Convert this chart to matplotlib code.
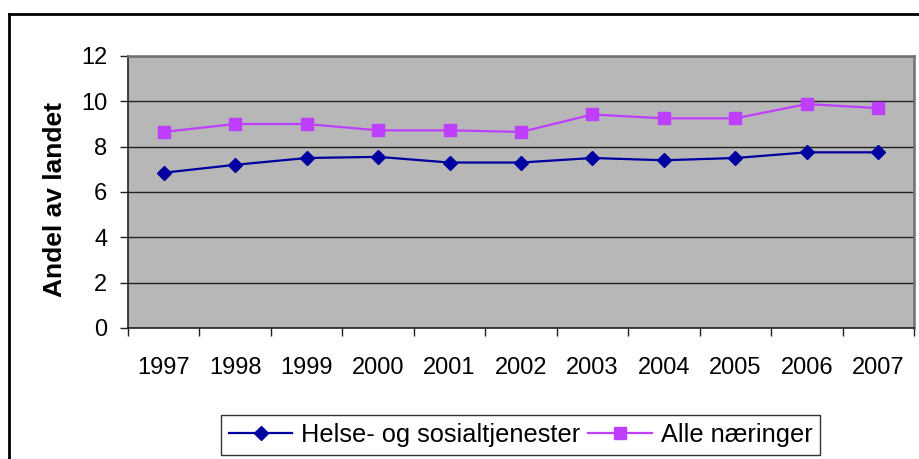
import numpy as np
import matplotlib
matplotlib.use("Agg")
import matplotlib.pyplot as plt
from matplotlib.lines import Line2D

plt.rcParams['font.family'] = ['Liberation Sans', 'DejaVu Sans']

# Data
years = ['1997', '1998', '1999', '2000', '2001', '2002', '2003', '2004', '2005', '2006', '2007']
helse = [6.85, 7.2, 7.5, 7.55, 7.3, 7.3, 7.5, 7.4, 7.5, 7.75, 7.75]
alle = [8.65, 9.0, 9.0, 8.72, 8.72, 8.65, 9.42, 9.25, 9.25, 9.88, 9.7]
y_ticks = [0, 2, 4, 6, 8, 10, 12]

fig = plt.figure(figsize=(9.2, 4.59), dpi=100)
ax = fig.add_axes([128 / 920, 1 - 328 / 459, 786 / 920, 272 / 459])
ax.set_facecolor('#b7b7b7')

x = np.arange(len(years))
ax.plot(x, helse, color='#0000a0', lw=1.6, marker='D', ms=7.2,
        label='Helse- og sosialtjenester', zorder=3)
ax.plot(x, alle, color='#bf3fff', lw=1.6, marker='s', ms=8.6,
        label='Alle næringer', zorder=3)

ax.set_xlim(-0.5, len(years) - 0.5)
ax.set_ylim(0, 12)
ax.set_yticks(y_ticks)
ax.yaxis.grid(True, color='#222222', lw=1.0)
ax.set_axisbelow(True)

# category boundaries as major ticks, labels at centres
ax.set_xticks(np.arange(-0.5, len(years), 1.0))
ax.set_xticklabels([])
ax.set_xticks(x, minor=True)
ax.set_xticklabels(years, minor=True)
ax.tick_params(axis='x', which='major', length=6, width=1, direction='out', color='#222222')
ax.tick_params(axis='x', which='minor', length=0, pad=21, labelsize=17)
ax.tick_params(axis='y', length=6, width=1, direction='out', pad=9, labelsize=17, color='#222222')

for side in ['left', 'bottom']:
    ax.spines[side].set_color('#222222')
    ax.spines[side].set_linewidth(1.2)
for side in ['top', 'right']:
    ax.spines[side].set_color('#707070')
    ax.spines[side].set_linewidth(1.8)

ax.set_ylabel('Andel av landet', fontsize=19, fontweight='bold')
ax.yaxis.set_label_coords(-0.078, 0.474)

leg = fig.legend(loc='center', bbox_to_anchor=(0.5658, 0.0523), ncol=2,
                 fontsize=18.3, frameon=True, fancybox=False, edgecolor='black',
                 handlelength=2.5, handletextpad=0.35, columnspacing=0.3,
                 borderpad=0.3, borderaxespad=0)
leg.get_frame().set_linewidth(1.0)

# outer chart border (top and left visible)
fig.add_artist(Line2D([9 / 920, 9 / 920], [1 - 14 / 459, -0.1], color='black', lw=2,
                      transform=fig.transFigure))
fig.add_artist(Line2D([9 / 920, 1.1], [1 - 14 / 459, 1 - 14 / 459], color='black', lw=2,
                      transform=fig.transFigure))

fig.savefig('out.png', dpi=100)
